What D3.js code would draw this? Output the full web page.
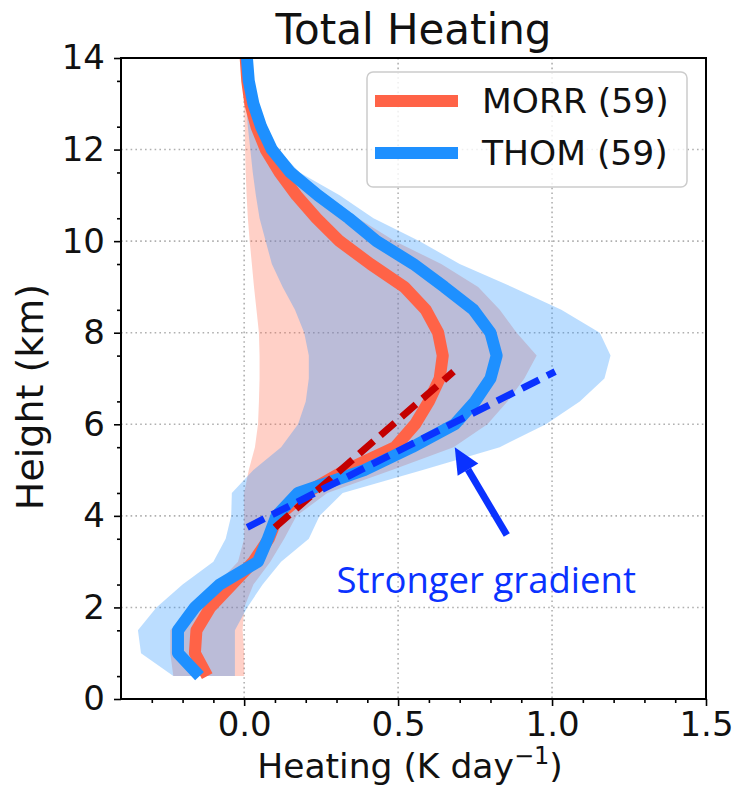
<!DOCTYPE html>
<html>
<head>
<meta charset="utf-8">
<style>
  body { margin: 0; background: #fff; }
  text { font-family: "DejaVu Sans", sans-serif; }
</style>
</head>
<body>
<script src="https://cdnjs.cloudflare.com/ajax/libs/d3/7.8.5/d3.min.js"></script>
<svg id="chart" width="733" height="800"></svg>
<script>
// heights of the profile levels (km)
const heights   = [0.5, 1, 1.5, 2, 2.5, 3, 3.5, 4, 4.5, 5, 5.5, 6, 6.5, 7, 7.5, 8, 8.5, 9, 9.5, 10, 10.5, 11, 11.5, 12, 12.5, 13, 13.5, 14];

// MORR heating (K/day): mean and spread
const morrMean  = [-0.12, -0.16, -0.155, -0.11, -0.04, 0.03, 0.08, 0.11, 0.20, 0.33, 0.49, 0.555, 0.60, 0.635, 0.645, 0.63, 0.59, 0.52, 0.41, 0.31, 0.235, 0.17, 0.115, 0.07, 0.04, 0.02, 0.01, 0.005];
const morrLow   = [-0.23, -0.24, -0.24, -0.17, -0.09, -0.02, 0.0, 0.0, 0.0, 0.015, 0.035, 0.045, 0.048, 0.05, 0.05, 0.048, 0.04, 0.032, 0.025, 0.018, 0.012, 0.008, 0.005, 0.003, 0.002, 0.0, 0.0, 0.0];
const morrHigh  = [0.0, 0.0, -0.005, 0.0, 0.03, 0.085, 0.13, 0.17, 0.27, 0.48, 0.68, 0.79, 0.855, 0.91, 0.95, 0.885, 0.83, 0.76, 0.64, 0.49, 0.37, 0.27, 0.17, 0.10, 0.06, 0.03, 0.015, 0.008];

// THOM heating (K/day): mean and spread
const thomMean  = [-0.145, -0.215, -0.215, -0.16, -0.08, 0.045, 0.077, 0.105, 0.175, 0.39, 0.545, 0.684, 0.75, 0.80, 0.82, 0.80, 0.745, 0.65, 0.55, 0.43, 0.34, 0.24, 0.15, 0.09, 0.055, 0.03, 0.015, 0.009];
const thomLow   = [-0.23, -0.335, -0.345, -0.285, -0.20, -0.10, -0.06, -0.042, -0.04, 0.03, 0.12, 0.175, 0.20, 0.21, 0.21, 0.195, 0.165, 0.125, 0.09, 0.07, 0.05, 0.038, 0.028, 0.02, 0.012, 0.006, 0.003, 0.0];
const thomHigh  = [-0.03, -0.03, -0.03, 0.01, 0.06, 0.12, 0.21, 0.245, 0.32, 0.58, 0.83, 0.98, 1.09, 1.17, 1.19, 1.155, 1.03, 0.87, 0.70, 0.57, 0.42, 0.31, 0.18, 0.11, 0.06, 0.03, 0.015, 0.009];

const seriesNames = ["MORR (59)", "THOM (59)"];
const xTicks = [0, 0.5, 1.0, 1.5];
const yTicks = [0, 2, 4, 6, 8, 10, 12, 14];
const xMinor = [-0.3, -0.2, -0.1, 0.1, 0.2, 0.3, 0.4, 0.6, 0.7, 0.8, 0.9, 1.1, 1.2, 1.3, 1.4];
const yMinor = [0.5, 1.5, 2.5, 3.5, 4.5, 5.5, 6.5, 7.5, 8.5, 9.5, 10.5, 11.5, 12.5, 13.5];

// annotation lines (x, height)
const redFit  = [[0.10, 3.75], [0.68, 7.15]];
const blueFit = [[0.01, 3.75], [1.01, 7.15]];
const arrowFrom = [0.853, 3.58];
const arrowTo   = [0.684, 5.50];
const noteText = "Stronger gradient";
const notePos  = [0.30, 2.31];

const svg = d3.select("#chart");
const pLeft = 121, pRight = 706, pTop = 58, pBottom = 699;

const x = d3.scaleLinear().domain([-0.4, 1.5]).range([pLeft, pRight]);
const y = d3.scaleLinear().domain([0, 14]).range([pBottom, pTop]);

const morr = heights.map((h, i) => ({h, m: morrMean[i], lo: morrLow[i], hi: morrHigh[i]}));
const thom = heights.map((h, i) => ({h, m: thomMean[i], lo: thomLow[i], hi: thomHigh[i]}));

const morrColor = "#ff6347", thomColor = "#1e90ff";

// grid
const grid = svg.append("g");
grid.selectAll(".gx").data(xTicks.slice(0, 3)).enter().append("line")
  .attr("x1", d => x(d)).attr("x2", d => x(d))
  .attr("y1", pTop).attr("y2", pBottom);
grid.selectAll(".gy").data(yTicks.slice(1, 7)).enter().append("line")
  .attr("x1", pLeft).attr("x2", pRight)
  .attr("y1", d => y(d)).attr("y2", d => y(d));
grid.selectAll("line")
  .attr("stroke", "#b0b0b0").attr("stroke-width", 1.6)
  .attr("stroke-dasharray", "1.6,3.2");

// spread bands
const band = d3.area()
  .y(d => y(d.h))
  .x0(d => x(d.lo))
  .x1(d => x(d.hi));

svg.append("path").datum(morr).attr("d", band)
  .attr("fill", morrColor).attr("fill-opacity", 0.3);
svg.append("path").datum(thom).attr("d", band)
  .attr("fill", thomColor).attr("fill-opacity", 0.3);

// mean profiles
const line = d3.line().x(d => x(d.m)).y(d => y(d.h));
[[morr, morrColor], [thom, thomColor]].forEach(([data, c]) => {
  svg.append("path").datum(data).attr("d", line)
    .attr("fill", "none").attr("stroke", c).attr("stroke-width", 12)
    .attr("stroke-linejoin", "round").attr("stroke-linecap", "butt");
});

// gradient fits
const fitLine = d3.line().x(d => x(d[0])).y(d => y(d[1]));
svg.append("path").datum(redFit).attr("d", fitLine)
  .attr("stroke", "#c40000").attr("stroke-width", 7)
  .attr("stroke-dasharray", "19,9").attr("fill", "none");
svg.append("path").datum(blueFit).attr("d", fitLine)
  .attr("stroke", "#0a32ff").attr("stroke-width", 7)
  .attr("stroke-dasharray", "19,9").attr("fill", "none");

// arrow
const ax0 = x(arrowFrom[0]), ay0 = y(arrowFrom[1]);
const ax1 = x(arrowTo[0]), ay1 = y(arrowTo[1]);
const ang = Math.atan2(ay1 - ay0, ax1 - ax0);
const headLen = 26, headW = 12;
const bx = ax1 - headLen * Math.cos(ang), by = ay1 - headLen * Math.sin(ang);
svg.append("line")
  .attr("x1", ax0).attr("y1", ay0).attr("x2", bx).attr("y2", by)
  .attr("stroke", "#0a32ff").attr("stroke-width", 7);
svg.append("path")
  .attr("d", `M${ax1},${ay1}L${bx - headW * Math.sin(ang)},${by + headW * Math.cos(ang)}L${bx + headW * Math.sin(ang)},${by - headW * Math.cos(ang)}Z`)
  .attr("fill", "#0a32ff");

svg.append("text")
  .attr("x", x(notePos[0])).attr("y", y(notePos[1]))
  .style("font-family", "'Open Sans', sans-serif")
  .attr("font-size", 36.5).attr("fill", "#0a32ff")
  .text(noteText);

// axes
const tickFont = 34;
const xAxis = svg.append("g").attr("transform", `translate(0,${pBottom})`)
  .call(d3.axisBottom(x).tickValues(xTicks).tickFormat(d3.format(".1f")).tickSize(7).tickSizeOuter(0).tickPadding(6));
const xMin = svg.append("g").attr("transform", `translate(0,${pBottom})`)
  .call(d3.axisBottom(x).tickValues(xMinor).tickFormat("").tickSize(4).tickSizeOuter(0));
const yAxis = svg.append("g").attr("transform", `translate(${pLeft},0)`)
  .call(d3.axisLeft(y).tickValues(yTicks).tickFormat(d3.format("d")).tickSize(7).tickSizeOuter(0).tickPadding(9));
const yMin = svg.append("g").attr("transform", `translate(${pLeft},0)`)
  .call(d3.axisLeft(y).tickValues(yMinor).tickFormat("").tickSize(4).tickSizeOuter(0));
[xAxis, xMin, yAxis, yMin].forEach(g => {
  g.select(".domain").remove();
  g.selectAll(".tick line").attr("stroke", "#000").attr("stroke-width", 1.6);
  g.selectAll(".tick text").attr("font-size", tickFont).attr("fill", "#111")
    .style("font-family", "'DejaVu Sans', sans-serif");
});

svg.append("rect")
  .attr("x", pLeft).attr("y", pTop).attr("width", pRight - pLeft).attr("height", pBottom - pTop)
  .attr("fill", "none").attr("stroke", "#000").attr("stroke-width", 2);

// legend
const lg = svg.append("g");
lg.append("rect").attr("x", 367).attr("y", 72).attr("width", 320).attr("height", 115)
  .attr("rx", 6).attr("fill", "#fff").attr("fill-opacity", 0.8)
  .attr("stroke", "#cccccc").attr("stroke-width", 1.5);
[morrColor, thomColor].forEach((c, i) => {
  const ly = 101 + i * 52;
  lg.append("line").attr("x1", 375).attr("x2", 458).attr("y1", ly).attr("y2", ly)
    .attr("stroke", c).attr("stroke-width", 12);
  lg.append("text").attr("x", 482).attr("y", ly).attr("dy", "0.36em")
    .attr("font-size", 34.5).attr("fill", "#111").text(seriesNames[i]);
});

// titles
svg.append("text").attr("x", (pLeft + pRight) / 2).attr("y", 44)
  .attr("text-anchor", "middle").attr("font-size", 42).attr("fill", "#111")
  .text("Total Heating");

const xl = svg.append("text").attr("x", 410).attr("y", 778)
  .attr("text-anchor", "middle").attr("font-size", 34.5).attr("fill", "#111");
xl.append("tspan").text("Heating (K day");
xl.append("tspan").attr("font-size", 24).attr("dy", -14).text("\u22121");
xl.append("tspan").attr("dy", 14).text(")");

svg.append("text")
  .attr("transform", `translate(43,397) rotate(-90)`)
  .attr("text-anchor", "middle").attr("font-size", 38).attr("fill", "#111")
  .text("Height (km)");
</script>
</body>
</html>
